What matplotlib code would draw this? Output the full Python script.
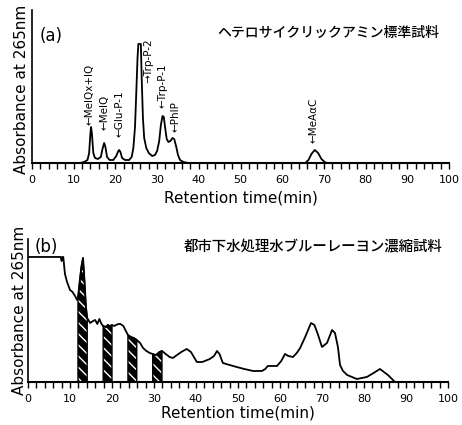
import matplotlib
matplotlib.use('Agg')
import matplotlib.pyplot as plt
import numpy as np

plt.rcParams['font.family'] = ['DejaVu Sans', 'Noto Sans CJK JP']
plt.rcParams['hatch.linewidth'] = 1.0

# (a) standard heterocyclic amines, absorbance (arbitrary units) vs retention time (min)
std_time = [0, 11.5, 12.5, 13.3, 13.7, 14.0, 14.15, 14.35, 14.7, 15.1, 15.8, 16.5, 16.9, 17.3,
            17.6, 18.0, 18.6, 19.5, 20.2, 20.7, 20.9, 21.2, 21.6, 22.3, 23.3, 23.9, 24.3, 24.7,
            25.0, 25.3, 25.5, 26.1, 26.3, 26.6, 26.9, 27.4, 28.0, 28.8, 29.5, 30.0, 30.5, 30.9,
            31.3, 31.6, 31.9, 32.3, 32.7, 33.2, 33.7, 34.1, 34.6, 35.0, 35.5, 36.3, 37.5, 65.5,
            66.3, 67.0, 67.8, 68.6, 69.4, 70.3, 71.0, 100]
std_abs = [0, 0, 1, 3, 10, 30, 36, 30, 10, 5, 4, 6, 14, 20,
           16, 6, 3, 3, 7, 12, 13, 11, 5, 3, 3, 6, 15, 36,
           70, 105, 119, 119, 85, 45, 25, 15, 10, 7, 8, 12, 22, 38,
           47, 46, 36, 24, 21, 22, 25, 24, 16, 8, 3, 1, 0, 0,
           3, 9, 13, 10, 4, 0.5, 0, 0]

peak_names = ['\u2190MeIQx+IQ', '\u2190MeIQ', '\u2190Glu-P-1', '\u2192Trp-P-2',
              '\u2190Trp-P-1', '\u2190PhIP', '\u2190MeA\u03b1C']
peak_label_x = [13.9, 17.3, 20.9, 27.8, 31.4, 34.3, 67.4]
peak_label_y = [38, 33, 26, 80, 55, 31, 20]

# (b) sewage water, blue rayon concentrate
smp_time = [0, 7.8, 8.0, 8.2, 8.4, 8.8, 9.3, 10.0, 10.6, 11.2, 11.7, 11.9, 12.3, 12.7, 13.1,
            13.4, 13.8, 14.1, 14.8, 15.5, 16.0, 16.5, 17.0, 17.5, 17.9, 18.5, 19.0, 19.5, 20.0,
            20.5, 21.0, 21.5, 22.0, 22.7, 23.3, 23.8, 24.5, 25.2, 25.9, 26.7, 27.4, 28.2, 29.0,
            29.7, 30.3, 30.8, 31.3, 31.9, 32.8, 33.7, 34.5, 35.5, 36.5, 37.8, 38.8, 40.2, 41.5,
            43.3, 44.3, 45.0, 45.6, 46.4, 48.0, 49.7, 51.5, 53.6, 55.7, 56.5, 57.1, 59.3, 60.3,
            61.2, 62.0, 63.1, 64.0, 64.8, 66.0, 67.4, 68.2, 69.0, 70.0, 71.2, 72.4, 73.1, 73.8,
            74.3, 75.0, 76.0, 78.3, 80.7, 82.3, 83.8, 85.7, 87.4, 100]
smp_abs = [125, 125, 121, 125, 125, 108, 100, 92, 90, 86, 82, 84, 100, 115, 124,
           105, 75, 64, 59, 61, 62, 58, 63, 58, 56, 55, 57, 56, 57,
           56, 57, 58, 58, 56, 51, 47, 45, 44, 42, 39, 34, 31, 29,
           28, 27, 28, 30, 31, 28, 25, 24, 27, 30, 33, 30, 20, 20,
           23, 26, 31, 28, 19, 17, 15, 13, 11, 11, 13, 16, 16, 21,
           28, 26, 25, 29, 34, 45, 59, 57, 48, 35, 39, 52, 49, 35,
           17, 11, 7, 3, 5, 9, 13, 7, 0, 0]

frac_start = [11.9, 17.9, 23.8, 29.7]
frac_end = [14.1, 20.0, 25.9, 31.9]

fig = plt.figure(figsize=(4.62, 4.25), dpi=100)
ax1 = fig.add_axes([0.0693, 0.6165, 0.9026, 0.36])
ax2 = fig.add_axes([0.0606, 0.1012, 0.909, 0.3365])


def style(ax, ytop, xpad):
    ax.set_xlim(0, 100)
    ax.set_ylim(0, ytop)
    ax.spines['top'].set_visible(False)
    ax.spines['right'].set_visible(False)
    ax.spines['left'].set_linewidth(1.2)
    ax.spines['bottom'].set_linewidth(1.5)
    ax.set_xticks(np.arange(0, 101, 10))
    ax.set_xticks(np.arange(0, 101, 2), minor=True)
    ax.tick_params(axis='x', which='both', direction='out', length=4, width=1,
                   labelsize=8, pad=4.5)
    ax.set_yticks([])
    ax.set_xlabel('Retention time(min)', fontsize=11, labelpad=xpad)
    ax.set_ylabel('Absorbance at 265nm', fontsize=11)


style(ax1, 153, 4)
style(ax2, 143, 1)
ax1.yaxis.set_label_coords(-0.008, 0.48)
ax2.yaxis.set_label_coords(-0.002, 0.50)

ax1.plot(std_time, std_abs, color='black', lw=1.3)
for name, x, y in zip(peak_names, peak_label_x, peak_label_y):
    ax1.text(x, y, name, rotation=90, ha='center', va='bottom', fontsize=7.5)
ax1.text(4.6, 127, '(a)', fontsize=12, ha='center', va='center')
ax1.text(71.1, 130, 'ヘテロサイクリックアミン標準試料', fontsize=10, ha='center', va='center',
         family=['Noto Sans CJK JP', 'DejaVu Sans'], fontweight='medium')

t = np.array(smp_time)
a = np.array(smp_abs)
for s, e in zip(frac_start, frac_end):
    m = (t >= s) & (t <= e)
    ax2.fill_between(t[m], a[m], 0, facecolor='black', edgecolor='white', hatch='\\\\\\', lw=0)
    ax2.fill_between(t[m], a[m], 0, facecolor='none', edgecolor='black', lw=1)
ax2.plot(t, a, color='black', lw=1.3)
ax2.text(4.3, 135, '(b)', fontsize=12, ha='center', va='center')
ax2.text(67.9, 135, '都市下水処理水ブルーレーヨン濃縮試料', fontsize=10.4, ha='center', va='center',
         family=['Noto Sans CJK JP', 'DejaVu Sans'], fontweight='medium')

fig.savefig('out.png', dpi=100)
